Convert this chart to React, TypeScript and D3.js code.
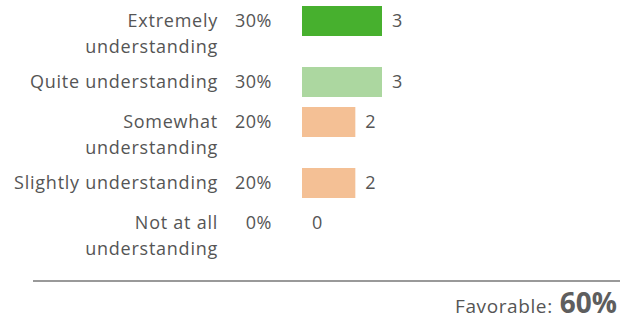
import React from "react";
import * as d3 from "d3";

const categories = [
  ["Extremely", "understanding"],
  ["Quite understanding"],
  ["Somewhat", "understanding"],
  ["Slightly understanding"],
  ["Not at all", "understanding"],
];
const counts = [3, 3, 2, 2, 0];
const percents = ["30%", "30%", "20%", "20%", "0%"];
const colors = ["#47b02e", "#acd7a0", "#f4c095", "#f4c095", "#f4c095"];
const favorableLabel = "Favorable:";
const favorableValue = "60%";

const W = 632;
const H = 322;
const FONT = "'Open Sans', sans-serif";
const TEXT = "#555555";

export default function App() {
  const x = d3.scaleLinear().domain([0, 3]).range([302, 382]);
  const barH = 30;
  const lineH = 25.5;
  const tops: number[] = [];
  let y = 6;
  categories.forEach((c) => {
    tops.push(y);
    y += c.length > 1 ? 61 : 40;
  });

  return (
    <svg
      width={W}
      height={H}
      style={{ position: "absolute", left: 0, top: 0, background: "#fff" }}
      fontFamily={FONT}
    >
      {categories.map((lines, i) => {
        const t = tops[i];
        const base = t + 21;
        return (
          <g key={i}>
            <text
              x={218}
              y={base}
              textAnchor="end"
              fontSize={18}
              letterSpacing={0.75}
              fill={TEXT}
            >
              {lines.map((l, j) => (
                <tspan key={j} x={218} y={base + j * lineH}>
                  {l}
                </tspan>
              ))}
            </text>
            <text
              x={272}
              y={base}
              textAnchor="end"
              fontSize={18}
              letterSpacing={0.5}
              fill={TEXT}
            >
              {percents[i]}
            </text>
            {counts[i] > 0 && (
              <rect
                x={x(0)}
                y={t}
                width={x(counts[i]) - x(0)}
                height={barH}
                fill={colors[i]}
              />
            )}
            <text x={x(counts[i]) + 10} y={base} fontSize={18} fill={TEXT}>
              {counts[i]}
            </text>
          </g>
        );
      })}
      <line x1={33} x2={620} y1={281} y2={281} stroke="#999" strokeWidth={2} />
      <text x={617} y={313} textAnchor="end" fill={TEXT}>
        <tspan fontSize={19} letterSpacing={0.6}>
          {favorableLabel}
        </tspan>
        <tspan fontSize={28} fontWeight="bold" fill="#5e5e5e" dx={7}>
          {favorableValue}
        </tspan>
      </text>
    </svg>
  );
}
